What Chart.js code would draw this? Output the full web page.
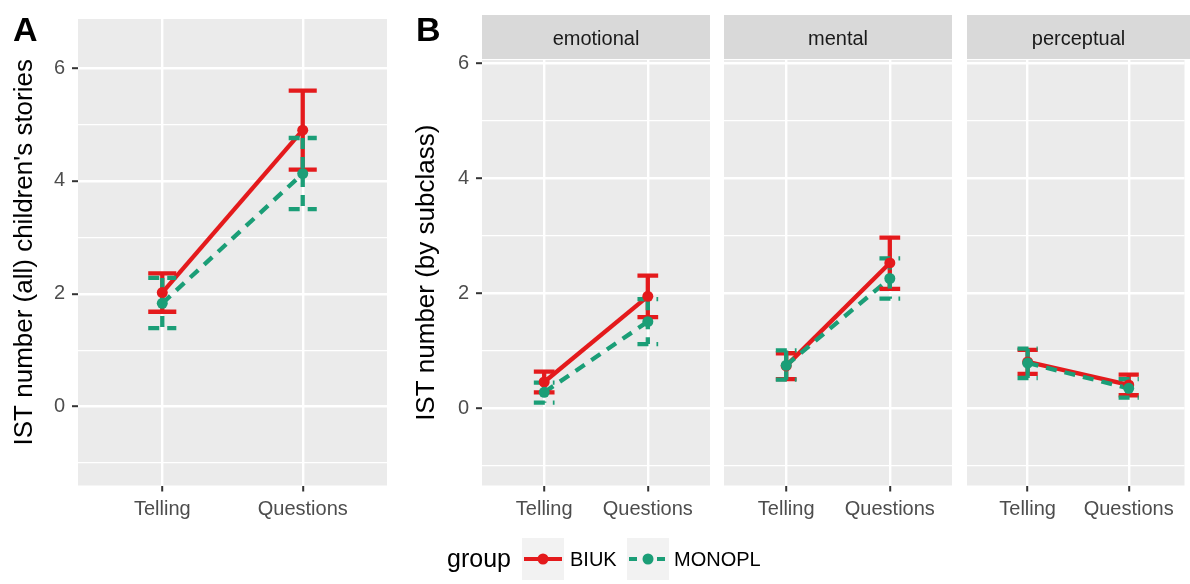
<!DOCTYPE html>
<html>
<head>
<meta charset="utf-8">
<script src="https://cdn.jsdelivr.net/npm/chart.js@4"></script>
<style>
  html, body { margin: 0; padding: 0; background: #FFFFFF; }
  #stage { position: relative; width: 1190px; height: 584px; overflow: hidden;
           font-family: "Liberation Sans", Arial, sans-serif; }
  #stage canvas { position: absolute; left: 0; top: 0; }
  .tag { position: absolute; font-weight: bold; font-size: 34px; line-height: 34px; color: #000; }
  .strip { position: absolute; top: 15px; height: 44px; background: #D9D9D9; color: #1A1A1A;
           font-size: 20px; line-height: 47px; text-align: center; }
  .legend-text { position: absolute; color: #000; white-space: nowrap; }
  .legend-key { position: absolute; top: 538px; }
</style>
</head>
<body>
<div id="stage">
  <canvas id="panelA" width="1190" height="584"></canvas>
  <canvas id="panelEmotional" width="1190" height="584"></canvas>
  <canvas id="panelMental" width="1190" height="584"></canvas>
  <canvas id="panelPerceptual" width="1190" height="584"></canvas>

  <div class="tag" style="left:13px; top:12px;">A</div>
  <div class="tag" style="left:416px; top:12px;">B</div>

  <div class="strip" style="left:482px; width:228px;">emotional</div>
  <div class="strip" style="left:724px; width:228px;">mental</div>
  <div class="strip" style="left:967px; width:223px;">perceptual</div>

  <div class="legend-text" style="left:447px; top:543px; font-size:25px; line-height:30px;">group</div>
  <svg class="legend-key" style="left:522px;" width="42" height="42">
    <rect width="42" height="42" fill="#F2F2F2"></rect>
    <line x1="2" y1="21" x2="40" y2="21" stroke="#E41A1C" stroke-width="4"></line>
    <circle cx="21" cy="21" r="5.5" fill="#E41A1C"></circle>
  </svg>
  <div class="legend-text" style="left:570px; top:547px; font-size:20px; line-height:24px;">BIUK</div>
  <svg class="legend-key" style="left:627px;" width="42" height="42">
    <rect width="42" height="42" fill="#F2F2F2"></rect>
    <line x1="2" y1="21" x2="40" y2="21" stroke="#1B9E77" stroke-width="4" stroke-dasharray="8 6"></line>
    <circle cx="21" cy="21" r="5.5" fill="#1B9E77"></circle>
  </svg>
  <div class="legend-text" style="left:674px; top:547px; font-size:20px; line-height:24px;">MONOPL</div>
</div>

<script>
// Conditions on the x axis and the y tick layout
const categories = ['Telling', 'Questions'];
const yTickValues = [-1, 0, 1, 2, 3, 4, 5, 6];
const yTickLabels = ['', '0', '', '2', '', '4', '', '6'];

// A: IST number, all children's stories (mean, lower, upper)
const allBIUK = [2.02, 4.90];
const allBIUKLow = [1.68, 4.20];
const allBIUKHigh = [2.36, 5.60];
const allMONOPL = [1.83, 4.13];
const allMONOPLLow = [1.39, 3.50];
const allMONOPLHigh = [2.28, 4.76];

// B: IST number by subclass
const emotionalBIUK = [0.46, 1.95];
const emotionalBIUKLow = [0.28, 1.59];
const emotionalBIUKHigh = [0.64, 2.31];
const emotionalMONOPL = [0.28, 1.51];
const emotionalMONOPLLow = [0.10, 1.12];
const emotionalMONOPLHigh = [0.45, 1.90];

const mentalBIUK = [0.74, 2.53];
const mentalBIUKLow = [0.51, 2.08];
const mentalBIUKHigh = [0.96, 2.97];
const mentalMONOPL = [0.75, 2.26];
const mentalMONOPLLow = [0.50, 1.91];
const mentalMONOPLHigh = [1.01, 2.61];

const perceptualBIUK = [0.81, 0.41];
const perceptualBIUKLow = [0.60, 0.23];
const perceptualBIUKHigh = [1.02, 0.59];
const perceptualMONOPL = [0.79, 0.35];
const perceptualMONOPLLow = [0.53, 0.19];
const perceptualMONOPLHigh = [1.04, 0.51];

const RED = '#E41A1C';
const GREEN = '#1B9E77';
const DASH = [11, 8];
const CAP_HALF = 0.1;   // error bar cap half-width in x units

Chart.defaults.font.family = '"Liberation Sans", Arial, sans-serif';

// grey panel background behind the grid
const panelBackground = {
  id: 'panelBackground',
  beforeDraw(chart) {
    const { ctx, chartArea } = chart;
    ctx.save();
    ctx.fillStyle = '#EBEBEB';
    ctx.fillRect(chartArea.left, chartArea.top, chartArea.right - chartArea.left, chartArea.bottom - chartArea.top);
    ctx.restore();
  }
};

function meanPoints(means) {
  return means.map((v, i) => ({ x: i + 1, y: v }));
}

function errorBarPath(low, high) {
  const pts = [];
  low.forEach((lo, i) => {
    const x = i + 1, hi = high[i];
    pts.push({ x: x - CAP_HALF, y: hi }, { x: x + CAP_HALF, y: hi }, { x: x, y: null });
    pts.push({ x: x, y: hi }, { x: x, y: lo }, { x: x, y: null });
    pts.push({ x: x - CAP_HALF, y: lo }, { x: x + CAP_HALF, y: lo }, { x: x, y: null });
  });
  return pts;
}

function groupDatasets(label, color, dash, means, low, high, base) {
  return [
    { label: label, data: meanPoints(means), borderColor: color, borderWidth: 4.3, borderDash: dash,
      pointRadius: 0, fill: false, order: base + 6 },
    { label: label + ' interval', data: errorBarPath(low, high), borderColor: color, borderWidth: 4.3,
      borderDash: dash, pointRadius: 0, spanGaps: false, fill: false, order: base + 4 },
    { label: label + ' mean', data: meanPoints(means), showLine: false, pointRadius: 5.5,
      pointBackgroundColor: color, pointBorderWidth: 0, borderColor: color, order: base + 2 }
  ];
}

function makePanel(id, cfg) {
  const datasets = [
    ...groupDatasets('BIUK', RED, [], cfg.biuk, cfg.biukLow, cfg.biukHigh, 1),
    ...groupDatasets('MONOPL', GREEN, DASH, cfg.mono, cfg.monoLow, cfg.monoHigh, 0)
  ];
  const showY = cfg.yWidth > 0;
  return new Chart(document.getElementById(id), {
    type: 'line',
    data: { datasets },
    plugins: [panelBackground],
    options: {
      responsive: false,
      animation: false,
      events: [],
      layout: { padding: cfg.padding },
      plugins: { legend: { display: false }, tooltip: { enabled: false } },
      elements: { line: { tension: 0, borderCapStyle: 'butt' } },
      scales: {
        x: {
          type: 'linear',
          min: 0.4,
          max: cfg.xMax,
          afterBuildTicks: (s) => { s.ticks = categories.map((c, i) => ({ value: i + 1 })); },
          afterFit: (s) => { s.height = 98.5; },
          border: { display: false },
          grid: { color: '#FFFFFF', lineWidth: 2.4, tickColor: '#333333', tickLength: 6, tickWidth: 2 },
          ticks: { color: '#4D4D4D', font: { size: 20 }, padding: 6, maxRotation: 0,
                   callback: (v, i) => categories[i] }
        },
        y: {
          type: 'linear',
          min: cfg.yMin,
          max: cfg.yMax,
          afterBuildTicks: (s) => { s.ticks = yTickValues.map(v => ({ value: v })); },
          afterFit: (s) => { s.width = cfg.yWidth; },
          border: { display: false },
          grid: {
            color: '#FFFFFF',
            lineWidth: (c) => (c.tick && c.tick.value % 2 === 0) ? 2.4 : 1.2,
            drawTicks: showY,
            tickColor: (c) => (c.tick && c.tick.value % 2 === 0) ? '#333333' : 'rgba(0,0,0,0)',
            tickLength: 6,
            tickWidth: 2
          },
          ticks: { display: showY, color: '#4D4D4D', font: { size: 20 }, padding: 7,
                   callback: (v, i) => yTickLabels[i] },
          title: { display: !!cfg.yTitle, text: cfg.yTitle || '', color: '#000000',
                   font: { size: 26, lineHeight: 1.2 }, padding: { top: 9.4, bottom: 0 } }
        }
      }
    }
  });
}

makePanel('panelA', {
  biuk: allBIUK, biukLow: allBIUKLow, biukHigh: allBIUKHigh,
  mono: allMONOPL, monoLow: allMONOPLLow, monoHigh: allMONOPLHigh,
  padding: { left: 0, right: 803, top: 15, bottom: 0 },
  yWidth: 78, yMin: -1.40, yMax: 6.87, xMax: 2.6,
  yTitle: "IST number (all) children's stories"
});

makePanel('panelEmotional', {
  biuk: emotionalBIUK, biukLow: emotionalBIUKLow, biukHigh: emotionalBIUKHigh,
  mono: emotionalMONOPL, monoLow: emotionalMONOPLLow, monoHigh: emotionalMONOPLHigh,
  padding: { left: 402, right: 480, top: 60, bottom: 0 },
  yWidth: 80, yMin: -1.34, yMax: 6.06, xMax: 2.6,
  yTitle: 'IST number (by subclass)'
});

makePanel('panelMental', {
  biuk: mentalBIUK, biukLow: mentalBIUKLow, biukHigh: mentalBIUKHigh,
  mono: mentalMONOPL, monoLow: mentalMONOPLLow, monoHigh: mentalMONOPLHigh,
  padding: { left: 724, right: 238, top: 60, bottom: 0 },
  yWidth: 0, yMin: -1.34, yMax: 6.06, xMax: 2.6
});

makePanel('panelPerceptual', {
  biuk: perceptualBIUK, biukLow: perceptualBIUKLow, biukHigh: perceptualBIUKHigh,
  mono: perceptualMONOPL, monoLow: perceptualMONOPLLow, monoHigh: perceptualMONOPLHigh,
  padding: { left: 967, right: 0, top: 60, bottom: 0 },
  yWidth: 0, yMin: -1.34, yMax: 6.06, xMax: 2.552
});
</script>
</body>
</html>
